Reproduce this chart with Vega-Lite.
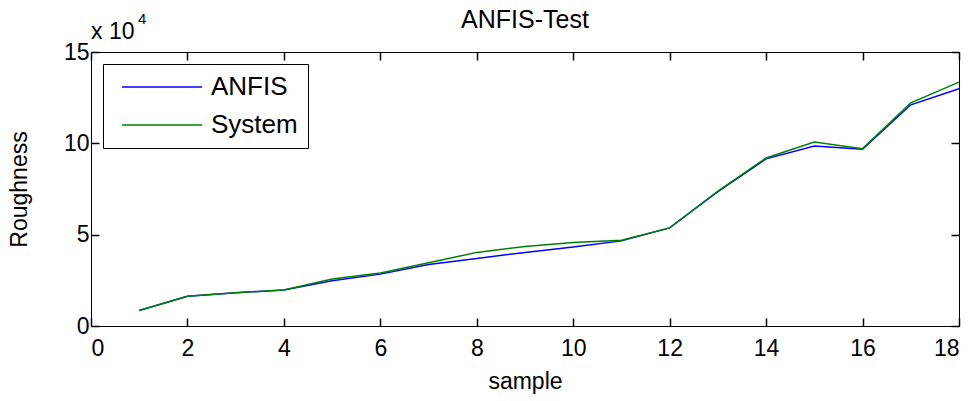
{
  "$schema": "https://vega.github.io/schema/vega-lite/v6.json",
  "width": 868,
  "height": 274,
  "autosize": "none",
  "padding": {"left": 91, "top": 52, "right": 15, "bottom": 75},
  "background": "white",
  "title": {"text": "ANFIS-Test", "font": "Liberation Sans", "fontSize": 25, "fontWeight": "normal", "color": "black", "offset": 0, "dy": 21, "anchor": "middle"},
  "config": {
    "view": {"stroke": "black", "strokeWidth": 1},
    "axis": {
      "labelFont": "Liberation Sans", "labelFontSize": 23, "labelColor": "black",
      "titleFont": "Liberation Sans", "titleFontSize": 23, "titleFontWeight": "normal", "titleColor": "black",
      "tickColor": "black", "tickSize": -8, "tickWidth": 1.5, "domain": false, "grid": false
    },
    "legend": {
      "orient": "top-left", "offset": 12, "strokeColor": "black", "fillColor": "white",
      "padding": 10, "symbolType": "M-4,0H4", "symbolSize": 400, "symbolStrokeWidth": 1.5,
      "symbolOffset": 36, "labelFont": "Liberation Sans", "labelFontSize": 26, "labelColor": "black",
      "labelOffset": 36, "rowPadding": 12
    }
  },
  "data": {
    "values": [
      {"sample": 1, "series": "ANFIS", "roughness": 8500},
      {"sample": 2, "series": "ANFIS", "roughness": 16300},
      {"sample": 3, "series": "ANFIS", "roughness": 18200},
      {"sample": 4, "series": "ANFIS", "roughness": 19700},
      {"sample": 5, "series": "ANFIS", "roughness": 24800},
      {"sample": 6, "series": "ANFIS", "roughness": 28400},
      {"sample": 7, "series": "ANFIS", "roughness": 33700},
      {"sample": 8, "series": "ANFIS", "roughness": 37000},
      {"sample": 9, "series": "ANFIS", "roughness": 40300},
      {"sample": 10, "series": "ANFIS", "roughness": 43300},
      {"sample": 11, "series": "ANFIS", "roughness": 46600},
      {"sample": 12, "series": "ANFIS", "roughness": 53700},
      {"sample": 13, "series": "ANFIS", "roughness": 73500},
      {"sample": 14, "series": "ANFIS", "roughness": 91500},
      {"sample": 15, "series": "ANFIS", "roughness": 98500},
      {"sample": 16, "series": "ANFIS", "roughness": 96800},
      {"sample": 17, "series": "ANFIS", "roughness": 121100},
      {"sample": 18, "series": "ANFIS", "roughness": 129900},
      {"sample": 1, "series": "System", "roughness": 8500},
      {"sample": 2, "series": "System", "roughness": 16300},
      {"sample": 3, "series": "System", "roughness": 18200},
      {"sample": 4, "series": "System", "roughness": 19700},
      {"sample": 5, "series": "System", "roughness": 25700},
      {"sample": 6, "series": "System", "roughness": 29000},
      {"sample": 7, "series": "System", "roughness": 34600},
      {"sample": 8, "series": "System", "roughness": 40300},
      {"sample": 9, "series": "System", "roughness": 43500},
      {"sample": 10, "series": "System", "roughness": 45700},
      {"sample": 11, "series": "System", "roughness": 47000},
      {"sample": 12, "series": "System", "roughness": 53700},
      {"sample": 13, "series": "System", "roughness": 73900},
      {"sample": 14, "series": "System", "roughness": 92000},
      {"sample": 15, "series": "System", "roughness": 100700},
      {"sample": 16, "series": "System", "roughness": 97100},
      {"sample": 17, "series": "System", "roughness": 122200},
      {"sample": 18, "series": "System", "roughness": 133500}
    ]
  },
  "resolve": {"axis": {"x": "independent", "y": "independent"}},
  "layer": [
    {
      "mark": {"type": "line", "strokeWidth": 1.5},
      "encoding": {
        "x": {"field": "sample", "type": "quantitative", "scale": {"domain": [0, 18], "nice": false},
              "axis": {"orient": "bottom", "values": [0, 2, 4, 6, 8, 10, 12, 14, 16, 18], "title": "sample", "labelPadding": 19, "titlePadding": 10}},
        "y": {"field": "roughness", "type": "quantitative", "scale": {"domain": [0, 150000], "nice": false},
              "axis": {"orient": "left", "values": [0, 50000, 100000, 150000], "labelExpr": "datum.value / 10000", "title": "Roughness", "labelPadding": 10, "titlePadding": 32}},
        "color": {"field": "series", "type": "nominal", "scale": {"domain": ["ANFIS", "System"], "range": ["#0000ff", "#008000"]}, "legend": {"title": null, "labelExpr": "datum.label + ' '"}}
      }
    },
    {
      "data": {"values": [{}]},
      "mark": {"type": "text", "align": "left", "baseline": "alphabetic", "font": "Liberation Sans", "fontSize": 23, "fontWeight": "normal", "fill": "black", "dx": 0, "dy": -13},
      "encoding": {
        "x": {"datum": 0, "type": "quantitative", "axis": {"orient": "top", "values": [0, 2, 4, 6, 8, 10, 12, 14, 16, 18], "labels": false, "title": null}},
        "y": {"datum": 150000, "type": "quantitative", "axis": {"orient": "right", "values": [0, 50000, 100000, 150000], "labels": false, "title": null}},
        "text": {"value": "x 10"}
      }
    },
    {
      "data": {"values": [{}]},
      "mark": {"type": "text", "align": "left", "baseline": "alphabetic", "font": "Liberation Sans", "fontSize": 15, "fontWeight": "normal", "fill": "black", "dx": 47, "dy": -28},
      "encoding": {
        "x": {"datum": 0, "type": "quantitative", "axis": null},
        "y": {"datum": 150000, "type": "quantitative", "axis": null},
        "text": {"value": "4"}
      }
    }
  ]
}
